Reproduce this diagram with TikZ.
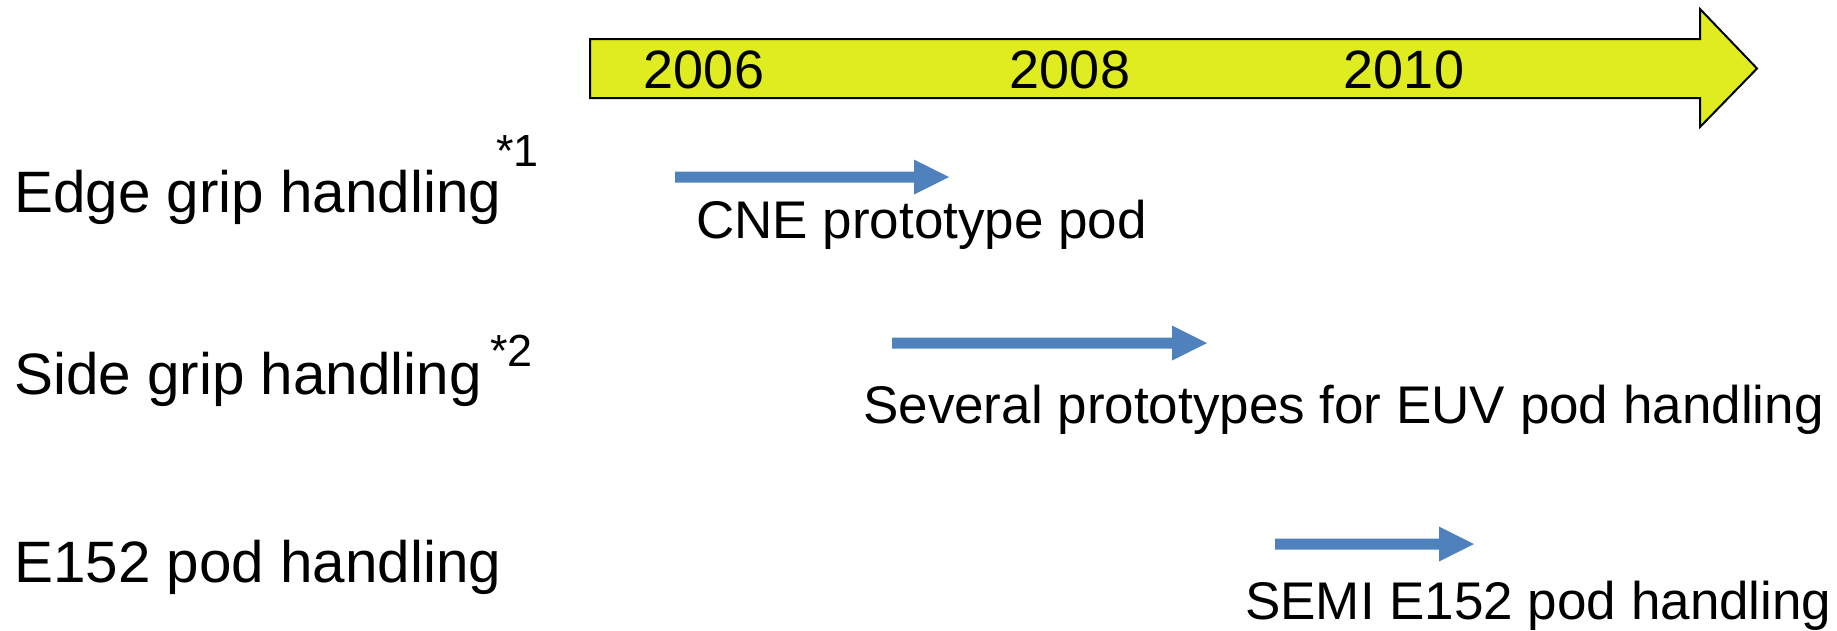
\documentclass[tikz,border=0pt]{standalone}
\usepackage{fontspec}
\setmainfont{Liberation Sans}
\definecolor{barfill}{RGB}{222,236,32}
\definecolor{podblue}{RGB}{79,129,189}
\tikzset{
  label/.style={anchor=base west, inner sep=0pt, font=\fontsize{58.4}{70}\selectfont},
  note/.style={anchor=base west, inner sep=0pt, font=\fontsize{53}{64}\selectfont},
  supnote/.style={anchor=base west, inner sep=0pt, font=\fontsize{45}{54}\selectfont},
  year/.style={anchor=center, inner sep=0pt, font=\fontsize{54}{64}\selectfont},
  timebar/.style={fill=barfill, draw=black, line width=2pt, line join=miter},
  podarrow/.style={fill=podblue, draw=none},
}
\begin{document}
\begin{tikzpicture}[x=1pt, y=-1pt]
\useasboundingbox (0,0) rectangle (1837,630);

% time axis
\draw[timebar] (590,39) -- (1700,39) -- (1700,9) -- (1757,68.5)
  -- (1700,127) -- (1700,98) -- (590,98) -- cycle;
\node[year] (y2006) at (704,70) {2006};
\node[year] (y2008) at (1070,70) {2008};
\node[year] (y2010) at (1404,70) {2010};

% handling methods
\node[label] (edge) at (14,212) {Edge grip handling};
\node[supnote] (edgeref) at (496,166) {*1};
\node[label] (side) at (14,394) {Side grip handling};
\node[supnote] (sideref) at (490,366) {*2};
\node[label] (e152) at (14,582) {E152 pod handling};

% periods
\newcommand{\podarrowat}[4]{% y, start x, shaft end x, tip x
  \fill[podarrow] (#2,#1-5.5) -- (#3,#1-5.5) -- (#3,#1-17.5) -- (#4,#1)
    -- (#3,#1+17.5) -- (#3,#1+5.5) -- (#2,#1+5.5) -- cycle;}
\podarrowat{177}{675}{914}{949}
\podarrowat{343}{892}{1172}{1207}
\podarrowat{544}{1275}{1439}{1474}

\node[note] (cne) at (696,238) {CNE prototype pod};
\node[note] (euv) at (863,423) {Several prototypes for EUV pod handling};
\node[note] (semi) at (1245,619) {SEMI E152 pod handling};
\end{tikzpicture}
\end{document}
